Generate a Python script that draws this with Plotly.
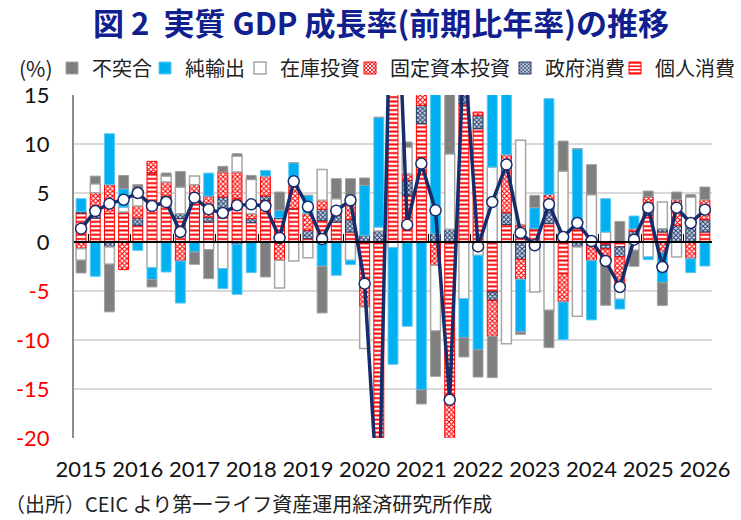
import plotly.graph_objects as go

# ---------------- data ----------------
quarters = [f"{y}Q{q}" for y in range(2015, 2027) for q in range(1, 5)][:45]
year_labels = [str(y) for y in range(2015, 2027)]
year_ticks = [f"{y}Q1" for y in range(2015, 2027)]

gdp = [1.36, 3.16, 3.91, 4.32, 5.0, 3.67, 4.08, 1.02, 4.52, 3.33,
       2.96, 3.74, 3.84, 3.67, 0.41, 6.19, 3.6, 0.3, 3.2, 4.25,
       -4.25, -28.0, 38.0, 1.77, 8.0, 3.23, -16.1, 20.0, -0.45, 4.08,
       7.9, 0.92, -0.34, 3.84, 0.51, 1.94, 0.1, -1.94, -4.59, 0.24,
       3.5, -2.55, 3.5, 1.94, 3.3]

private_cons = [2.96, 2.45, 2.9, 3.06, 1.7, 7.07, 4.42, 2.38, 4.76, 2.04,
                3.4, 4.42, 1.97, 4.25, 2.38, 3.4, 0.34, 2.21, 2.04, 1.02,
                -4.08, -25.0, 30.0, 4.76, 12.07, 0.0, -16.5, 14.1, 11.56, -5.1,
                1.77, 1.77, 1.36, 1.87, -3.23, 1.36, 0.0, -0.3, -0.5, 0.5,
                2.72, 1.02, 0.0, 0.0, 1.02]

gov_cons = [0.17, 0.27, -0.5, 0.0, 0.75, 0.0, 0.27, 0.5, 0.0, 0.5,
            1.19, -0.24, 0.41, 0.44, 0.1, 0.0, 0.85, 1.12, 0.68, 1.26,
            0.68, 1.12, 2.5, 1.53, 1.87, 0.85, 1.3, 3.0, 1.36, -0.85,
            1.22, -1.77, 0.0, 2.21, 0.0, -0.51, -0.4, -0.4, -1.0, 0.6,
            0.51, 0.34, 1.7, 1.53, 1.26]

fixed_inv = [-0.68, 2.3, 2.95, -2.82, 1.22, 1.16, 1.43, -1.94, 1.09, 2.14,
             2.55, 2.72, 0.51, 2.04, -1.87, 2.38, 1.7, 0.92, 0.85, 2.31,
             -2.55, -15.8, 18.0, 0.68, 10.56, -2.38, -15.1, 14.6, 0.34, -3.67,
             5.92, -2.04, 0.0, 0.75, -2.89, 0.0, -1.5, -1.3, -3.4, 0.25,
             1.36, -1.1, 2.62, -1.7, 2.04]

inventory = [-1.19, 0.92, -1.77, 0.5, 1.5, -2.62, 0.61, 2.72, 0.88, -0.78,
             -2.72, 1.63, 3.5, 0.0, -2.82, -1.94, -1.6, 3.16, 0.85, -1.87,
             -4.25, 0.4, -0.58, 2.72, 0.0, -6.7, 7.7, -5.78, -1.36, 7.65,
             -10.37, 8.6, -5.1, -6.97, 7.24, -7.07, 4.83, 1.02, -0.95, -0.85,
             -1.53, 2.72, -1.53, 3.06, 0.0]

net_exports = [1.29, -3.5, 5.2, 1.87, -0.85, -1.22, -3.06, -4.29, -1.02, 2.35,
               -2.04, -5.1, -3.13, 0.58, 0.75, 2.31, 1.87, -2.48, -3.4, -0.44,
               5.1, 11.2, -11.9, -8.6, -15.1, 16.1, 0.0, -3.98, -9.63, 10.27,
               9.36, -5.37, 2.14, 9.8, -3.84, 8.16, -6.05, 3.4, -0.99, 1.3,
               -0.27, -3.06, 0.0, -1.43, -2.45]

discrepancy = [-1.29, 0.78, -4.86, 1.36, 0.68, -0.75, 0.31, 1.6, -1.26, -2.96,
               0.58, 0.24, 0.41, -3.57, 1.87, 0.0, 0.0, -4.76, 2.04, 1.87,
               0.75, 0.0, 0.0, 0.51, -1.43, -4.63, 6.5, -1.97, -2.79, -4.22,
               0.0, -0.24, 1.26, -3.81, 3.06, 0.0, 3.06, -4.46, 2.1, -1.63,
               0.61, -2.31, 0.78, 0.24, 1.29]

y_tickvals = [15, 10, 5, 0, -5, -10, -15, -20]

# ---------------- layout helpers ----------------
W, H = 741, 520
ML, MR, MT, MB = 74, 29, 95, 82
PW, PH = W - ML - MR, H - MT - MB


def px_x(px):
    return (px - ML) / PW


def px_y(py):
    return (H - MB - py) / PH


fig = go.Figure()

series = [
    ("個人消費", private_cons,
     dict(color="white", line=dict(color="#ff0000", width=1),
          pattern=dict(shape="-", fgcolor="#ff0000", bgcolor="white",
                       size=4.3, solidity=0.45, fillmode="replace")), 655),
    ("政府消費", gov_cons,
     dict(color="white", line=dict(color="#203864", width=1),
          pattern=dict(shape="x", fgcolor="#203864", bgcolor="#d5dcea",
                       size=3.2, solidity=0.5, fillmode="replace")), 545),
    ("固定資本投資", fixed_inv,
     dict(color="white", line=dict(color="#ff0000", width=1),
          pattern=dict(shape="x", fgcolor="#ff0000", bgcolor="white",
                       size=3.4, solidity=0.55, fillmode="replace")), 390),
    ("在庫投資", inventory,
     dict(color="white", line=dict(color="#a6a6a6", width=1.5)), 280),
    ("純輸出", net_exports,
     dict(color="#00b0f0", line=dict(color="#5cc8f2", width=1)), 185),
    ("不突合", discrepancy,
     dict(color="#7f7f7f", line=dict(color="#a0a0a0", width=1)), 92),
]

legend_layouts = {}
for k, (name, vals, marker, text_px) in enumerate(series):
    lname = "legend" if k == 0 else f"legend{k + 1}"
    fig.add_trace(go.Bar(x=quarters, y=vals, name=name, marker=marker,
                         legend=lname, hoverinfo="skip"))
    legend_layouts[lname] = dict(
        x=(text_px - 40) / W, y=1 - 68 / H, xref="container", yref="container",
        xanchor="left", yanchor="middle", orientation="h",
        font=dict(family="Noto Sans CJK JP", size=20, color="#222222"),
        bgcolor="rgba(0,0,0,0)", itemwidth=30, tracegroupgap=0)

fig.add_trace(go.Scatter(
    x=quarters, y=gdp, mode="lines+markers", showlegend=False,
    line=dict(color="#172c6b", width=3.5),
    marker=dict(size=11, color="white", line=dict(color="#172c6b", width=1.5)),
    hoverinfo="skip"))

# dummy trace for the zero-line tick axis
fig.add_trace(go.Scatter(x=[None], y=[None], xaxis="x2", showlegend=False,
                         hoverinfo="skip"))

tick_font = dict(family="Lato", size=22, color="#111111")
ytext = [f"{v}" if v >= 0 else f"<span style='color:#ff0000'>{v}</span>"
         for v in y_tickvals]

fig.update_layout(
    width=W, height=H, autosize=False,
    margin=dict(l=ML, r=MR, t=MT, b=MB, autoexpand=False),
    paper_bgcolor="white", plot_bgcolor="white",
    barmode="relative", bargap=0.3,
    hovermode=False,
    xaxis=dict(type="category", categoryorder="array", categoryarray=quarters,
               range=[-0.5, len(quarters) - 0.5],
               tickvals=year_ticks, ticktext=year_labels,
               ticks="outside", ticklen=12, tickcolor="rgba(0,0,0,0)",
               tickfont=tick_font, showgrid=False, showline=False,
               zeroline=False, fixedrange=True, automargin=False),
    xaxis2=dict(overlaying="x", anchor="free", position=20 / 35,
                range=[-0.5, len(quarters) - 0.5],
                tickvals=[0.5 + 3 * k for k in range(15)],
                ticks="inside", ticklen=7, tickwidth=1, tickcolor="black",
                showticklabels=False, showgrid=False, zeroline=False,
                showline=True, linecolor="black", linewidth=1.5,
                layer="above traces", automargin=False),
    yaxis=dict(range=[-20, 15], tickvals=y_tickvals, ticktext=ytext,
               tickfont=tick_font, showgrid=True, gridcolor="#d9d9d9",
               gridwidth=1.5, zeroline=False, showline=True,
               linecolor="#8c8c8c", linewidth=2, ticks="",
               ticklabelstandoff=18, fixedrange=True, automargin=False),
    **legend_layouts,
)

annotations = [
    dict(text="<b>図 2  実質 GDP 成長率(前期比年率)の推移</b>",
         x=px_x(381), y=px_y(22), xanchor="center", yanchor="middle",
         font=dict(family="Noto Sans CJK JP", size=31, color="#10208f")),
    dict(text="(%)", x=px_x(17), y=px_y(68), xanchor="left", yanchor="middle",
         font=dict(family="Noto Sans CJK JP", size=21, color="#222222")),
    dict(text="（出所）CEIC より第一ライフ資産運用経済研究所作成",
         x=px_x(3), y=px_y(503), xanchor="left", yanchor="middle",
         font=dict(family="Noto Sans CJK JP", size=20, color="#222222")),
]
for a in annotations:
    fig.add_annotation(xref="paper", yref="paper", showarrow=False, **a)

fig.write_html("out.html")
